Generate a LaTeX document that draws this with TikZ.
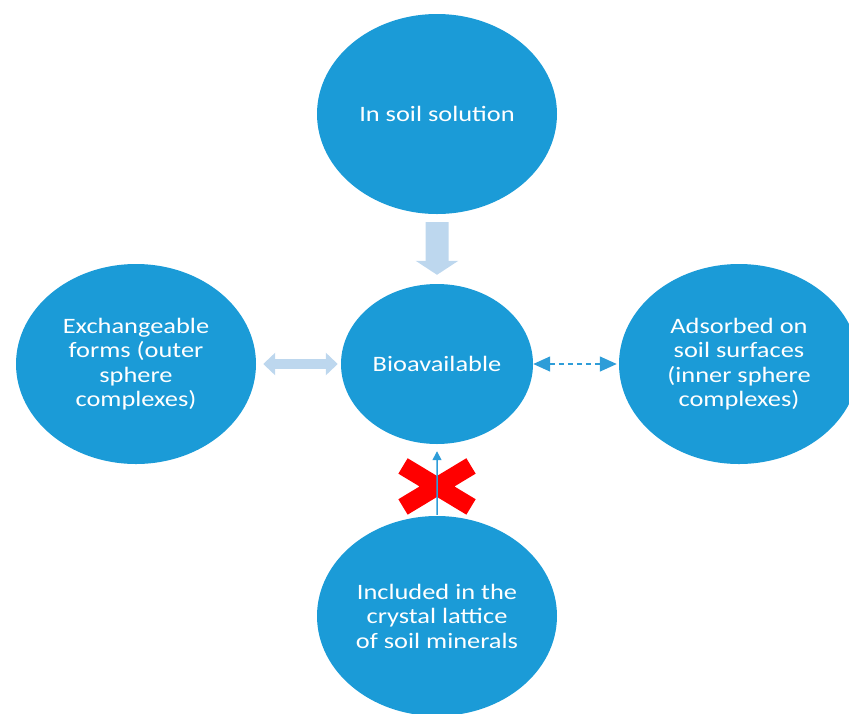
\documentclass[tikz,border=0pt]{standalone}
\usepackage{fontspec}
\setmainfont{Carlito}
\usetikzlibrary{arrows.meta,shapes.misc}
\definecolor{poolblue}{RGB}{27,155,215}
\definecolor{paleblue}{RGB}{189,215,238}
\definecolor{linkblue}{RGB}{46,157,216}

\begin{document}
\begin{tikzpicture}
	[x=1pt,y=-1pt,
	pool/.style={circle,fill=poolblue,text=white,xscale=1.2,minimum size=200pt,inner sep=0pt,align=center,font=\fontsize{22}{24.5}\selectfont},
	hub/.style={pool,minimum size=160pt},
	broad/.style={draw=paleblue,line width=23pt,-{Triangle[width=42pt,length=14pt]},shorten <=8pt,shorten >=9pt},
	trade/.style={draw=paleblue,line width=10pt,{Triangle[width=22pt,length=12pt]}-{Triangle[width=22pt,length=12pt]},shorten <=7pt,shorten >=3pt},
	weak/.style={draw=linkblue,line width=1.5pt,dash pattern=on 5pt off 4pt,{Triangle[width=15pt,length=17pt]}-{Triangle[width=15pt,length=17pt]},shorten >=2pt},
	seep/.style={draw=linkblue,line width=1.5pt,-{Triangle[width=9pt,length=9pt]},shorten <=1pt,shorten >=7pt},
	blocked/.style={cross out,draw=red,line width=18pt,minimum width=68pt,minimum height=41pt,inner sep=0pt,outer sep=0pt}]
	\useasboundingbox (0,0) rectangle (849,713);
	\clip (0,0) rectangle (849,713);
	\node[pool] (sol) at (437,114) {In soil solution};
	\node[hub] (bio) at (437,364) {Bioavailable};
	\node[pool] (exch) at (136,364) {Exchangeable\\forms (outer\\sphere\\complexes)};
	\node[pool] (ads) at (739,364) {Adsorbed on\\soil surfaces\\(inner sphere\\complexes)};
	\node[pool] (mins) at (437,616) {Included in the\\crystal lattice\\of soil minerals};
	\foreach \from/\to/\kind in {sol/bio/broad,exch/bio/trade,bio/ads/weak}
	\draw[\kind] (\from) -- (\to);
	\path (mins) -- (bio) node[blocked,pos=0.41] (stop) {};
	\draw[seep] (mins) -- (bio);
\end{tikzpicture}
\end{document}
